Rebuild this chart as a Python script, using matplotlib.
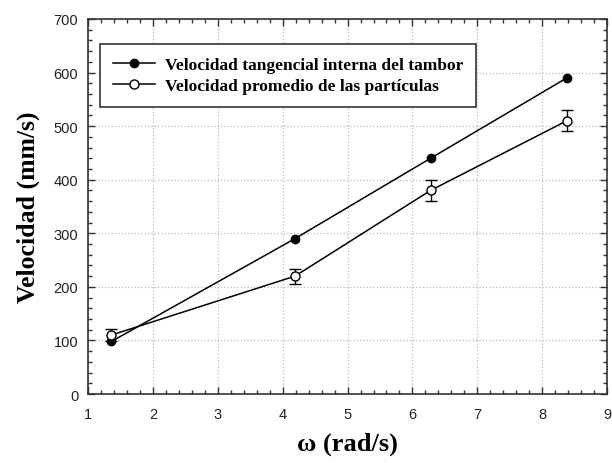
import matplotlib

matplotlib.use("Agg")
import matplotlib.pyplot as plt
from matplotlib.lines import Line2D
from matplotlib.ticker import MultipleLocator

# omega (rad/s) for each drum speed
omega = [1.36, 4.19, 6.28, 8.38]
vel_tambor = [98, 290, 440, 590]
vel_particulas = [110, 220, 380, 510]
err_particulas = [12, 14, 20, 20]

label_tambor = "Velocidad tangencial interna del tambor"
label_particulas = "Velocidad promedio de las partículas"

serif = ["Liberation Serif", "DejaVu Serif"]
sans = ["Liberation Sans", "DejaVu Sans"]

fig = plt.figure(figsize=(6.12, 4.64), dpi=100)
ax = fig.add_axes([0.1438, 0.1487, 0.8482, 0.8083])

ax.plot(omega, vel_tambor, color="black", lw=1.1, marker="o", ms=6,
        mfc="black", mec="black", zorder=3)
ax.errorbar(omega, vel_particulas, yerr=err_particulas, color="black", lw=1.1,
            marker="o", ms=6.5, mfc="white", mec="black", mew=1.0,
            ecolor="black", elinewidth=1.0, capsize=4, capthick=1.0, zorder=4)

ax.set_xlim(1, 9)
ax.set_ylim(0, 700)
ax.xaxis.set_major_locator(MultipleLocator(1))
ax.xaxis.set_minor_locator(MultipleLocator(0.2))
ax.yaxis.set_major_locator(MultipleLocator(100))
ax.yaxis.set_minor_locator(MultipleLocator(20))
ax.tick_params(which="both", direction="in", top=True, right=True,
               color="#333333", width=1.0)
ax.tick_params(which="major", length=5, labelsize=10.5, labelcolor="#222222")
ax.tick_params(axis="x", which="major", pad=9)
ax.tick_params(axis="y", which="major", pad=7)
ax.tick_params(which="minor", length=3)
for lab in ax.get_xticklabels() + ax.get_yticklabels():
    lab.set_family(sans)

for sp in ax.spines.values():
    sp.set_linewidth(1.2)
    sp.set_color("#333333")

ax.grid(True, which="major", linestyle=":", color="#bbbbbb", lw=0.9)
ax.set_axisbelow(True)

ax.set_xlabel("ω (rad/s)", fontsize=19, fontweight="bold", family=serif, labelpad=8)
ax.set_ylabel("Velocidad (mm/s)", fontsize=18.5, fontweight="bold", family=serif, labelpad=10)

handles = [
    Line2D([], [], color="black", lw=1.1, marker="o", ms=6, mfc="black", mec="black"),
    Line2D([], [], color="black", lw=1.1, marker="o", ms=6.5, mfc="white", mec="black"),
]
leg = ax.legend(handles, [label_tambor, label_particulas], loc="upper left",
                bbox_to_anchor=(0.023, 0.933), borderaxespad=0,
                frameon=True, fancybox=False, edgecolor="#333333", framealpha=1,
                prop={"family": serif, "weight": "bold", "size": 12.5},
                handlelength=2.4, handletextpad=0.6, borderpad=0.75, labelspacing=0.25)
leg.get_frame().set_linewidth(1.2)

fig.savefig("out.png", dpi=100)
